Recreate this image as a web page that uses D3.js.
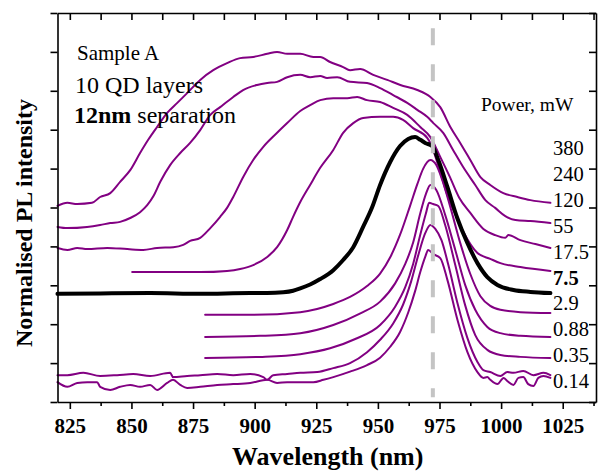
<!DOCTYPE html>
<html>
<head>
<meta charset="utf-8">
<script src="https://cdn.jsdelivr.net/npm/d3@7"></script>
<style>
  body { margin: 0; background: #fff; }
  svg { display: block; }
  text { font-family: "Liberation Serif", "Times New Roman", serif; fill: #000; }
</style>
</head>
<body>
<svg id="chart" width="605" height="474"></svg>
<script>
// Tick values (wavelength in nm)
const majorTicks = [825, 850, 875, 900, 925, 950, 975, 1000, 1025];
const minorTicks = [837.5, 862.5, 887.5, 912.5, 937.5, 962.5, 987.5, 1012.5, 1037.5];
const topTicks = [825, 837.5, 850, 862.5, 875, 887.5, 900, 912.5, 925, 937.5, 950, 962.5, 975, 987.5, 1000, 1012.5, 1025, 1037.5];
const intensityTicks = [0, 1, 2, 3, 4, 5, 6, 7, 8, 9, 10];

// Excitation powers listed beside the spectra (mW)
const powerLabels = ["380", "240", "120", "55", "17.5", "7.5", "2.9", "0.88", "0.35", "0.14"];
const boldPower = "7.5";

// Reference wavelength marked by the dashed line (nm)
const markerWavelength = 972.3;

// Normalised, vertically offset PL spectra: [wavelength nm, intensity]
const spectrum01 = [[820,5.04],[824,5.12],[828,5.09],[834,5.12],[837.3,5.27],[841.4,5.37],[845.4,5.66],[849.5,5.96],[853.5,6.40],[856.8,6.74],[860.4,7.07],[864.5,7.43],[868.6,7.69],[872.6,7.94],[877.9,8.28],[883.2,8.53],[888.8,8.71],[894.1,8.84],[899.4,8.87],[905.1,8.95],[909.1,9.00],[913.2,8.95],[918.5,8.95],[923.8,8.87],[926.6,8.87],[930.6,8.74],[935.9,8.61],[938.7,8.53],[942.8,8.56],[948.1,8.41],[953.8,8.28],[959.1,8.15],[966,8.02],[971.3,7.84],[975.3,7.58],[979.4,7.07],[983.4,6.66],[987.5,6.22],[991.6,5.78],[995.6,5.58],[1000.9,5.37],[1006.6,5.27],[1011.9,5.19],[1020,5.12]];

const spectrum02 = [[820,4.50],[824,4.47],[832,4.50],[837.3,4.55],[841.4,4.60],[845.4,4.63],[849.5,4.73],[853.5,4.88],[856.4,5.06],[859,5.30],[861.7,5.66],[865.7,6.09],[869.8,6.40],[873.8,6.66],[877.9,6.99],[882,7.38],[886,7.58],[891.3,7.84],[895.3,8.02],[901,8.15],[905.1,8.20],[909.1,8.23],[913.2,8.35],[918.5,8.41],[922.5,8.35],[926.6,8.38],[929.4,8.33],[933.5,8.35],[938.7,8.23],[945.6,8.20],[950.9,8.07],[956.2,7.89],[961.9,7.69],[966,7.51],[970,7.33],[972.5,7.17],[976.5,6.92],[980.5,6.48],[984.6,6.04],[989.5,5.58],[993.6,5.19],[997.6,4.99],[1001.7,4.78],[1005.8,4.68],[1011.9,4.65],[1020,4.60]];

const spectrum03 = [[820,3.96],[824,3.91],[828,3.96],[832.1,3.93],[840.2,3.96],[848.3,3.93],[854.8,3.91],[860.4,3.96],[867,3.98],[871,4.04],[873.8,4.14],[877.9,4.22],[882,4.47],[886,4.76],[888.8,4.99],[891.3,5.27],[895.3,5.78],[899.4,6.22],[903.5,6.56],[909.1,6.92],[913.2,7.17],[918.5,7.48],[922.5,7.63],[926.6,7.76],[931.9,7.81],[937.6,7.81],[941.6,7.84],[945.6,7.76],[950.9,7.71],[956.2,7.56],[961.9,7.38],[967.2,7.07],[971.3,6.81],[975.3,6.30],[979.1,5.80],[983,5.25],[987.5,4.86],[992.8,4.45],[997.6,4.29],[1001.7,4.22],[1002.9,4.29],[1007.8,4.16],[1013.9,4.06],[1020,3.96]];

const spectrum04 = [[850.3,3.34],[864.5,3.34],[877.9,3.34],[888.8,3.37],[894.1,3.42],[899.4,3.52],[905.1,3.73],[909.1,3.98],[913.2,4.42],[915.6,4.76],[918.5,5.14],[922.5,5.58],[926.6,6.02],[931.9,6.48],[935.9,6.92],[940,7.17],[944,7.30],[950.9,7.33],[956.2,7.33],[960.2,7.25],[964.3,7.04],[970,6.79],[971.3,6.66],[975.3,5.91],[978.2,5.32],[981.5,4.81],[984.7,4.37],[990.4,3.83],[995.6,3.68],[999.7,3.57],[1007.8,3.47],[1020,3.37]];

const spectrum05 = [[820,2.78],[837.3,2.79],[857.6,2.80],[877.9,2.78],[898.2,2.80],[905.1,2.80],[911.6,2.82],[915.6,2.86],[918.5,2.92],[922.5,3.02],[926.6,3.16],[931.9,3.39],[935.9,3.65],[940,3.98],[944,4.50],[947.7,5.01],[950.9,5.58],[955,6.17],[959,6.58],[962.3,6.76],[965.1,6.81],[967.2,6.74],[969.2,6.66],[972,6.58],[974.5,6.22],[978.2,5.53],[982.2,4.73],[986.3,4.09],[990.4,3.57],[994.4,3.21],[998.5,3.01],[1005,2.88],[1011.9,2.83],[1020,2.80]];

const spectrum06 = [[879.9,2.24],[898.2,2.24],[918.5,2.31],[931.9,2.52],[938.7,2.70],[945.6,2.98],[950.9,3.30],[955,3.72],[959,4.30],[963.1,5.05],[966,5.60],[968.4,6.00],[971.3,6.22],[973.7,6.09],[976.1,5.71],[979.4,5.01],[983.4,4.09],[987.5,3.29],[991.6,2.72],[995.6,2.47],[999.7,2.37],[1007.8,2.31],[1020,2.29]];

const spectrum07 = [[879.9,1.67],[902.2,1.70],[918.5,1.77],[931.9,1.98],[942.9,2.28],[950.9,2.58],[957,3.05],[961.1,3.55],[964.3,4.10],[967.2,4.85],[969.5,5.35],[971.3,5.58],[973.7,5.45],[977.3,4.81],[981.4,3.91],[985.4,3.01],[989.5,2.37],[994.4,1.93],[999.7,1.77],[1007.8,1.70],[1020,1.67]];

const spectrum08 = [[879.9,1.13],[902.2,1.16],[918.5,1.23],[930.6,1.38],[940.8,1.62],[950.9,1.98],[957,2.45],[961.1,2.95],[964.3,3.55],[967.2,4.30],[969.5,4.85],[970.8,5.12],[972.4,5.09],[974.5,5.04],[977.3,4.55],[981.4,3.52],[985.4,2.49],[989.5,1.72],[994.4,1.34],[999.7,1.21],[1007.8,1.16],[1020,1.13]];

const spectrum09 = [[820,0.69],[824,0.69],[830.5,0.75],[837.3,0.67],[844.2,0.69],[850.7,0.72],[857.6,0.67],[865.7,0.75],[866.9,0.64],[872.6,0.67],[877.9,0.69],[884.8,0.72],[891.3,0.69],[898.2,0.72],[903.5,0.64],[905.1,0.57],[907.5,0.69],[913.2,0.72],[918.5,0.75],[925.4,0.77],[931.9,0.87],[938.7,1.00],[945.6,1.28],[950.9,1.60],[956.2,2.02],[960.2,2.50],[963.5,3.10],[966.5,3.80],[969.2,4.34],[971.3,4.55],[973.3,4.45],[975.8,4.16],[978.6,3.52],[982.3,2.54],[986.3,1.65],[990.4,1.03],[992.8,0.82],[995.6,0.77],[999.7,0.67],[1002.5,0.77],[1005,0.75],[1009,0.80],[1013.1,0.69],[1017.2,0.75],[1020,0.69]];

const spectrum10 = [[820,0.51],[824,0.39],[828,0.49],[832.1,0.51],[836.1,0.51],[837.3,0.39],[841.4,0.31],[845.4,0.39],[849.5,0.44],[853.5,0.39],[857.6,0.44],[860.4,0.31],[864.5,0.49],[866.9,0.57],[869.8,0.44],[872.6,0.36],[877.9,0.39],[884.8,0.44],[891.3,0.46],[898.2,0.49],[905.1,0.57],[909.1,0.49],[913.2,0.51],[918.5,0.51],[923.8,0.51],[927.9,0.57],[931.9,0.64],[938.7,0.78],[945.6,0.95],[950.9,1.14],[955,1.42],[959,1.80],[962.3,2.30],[965.1,2.85],[967.2,3.34],[969.2,3.73],[970.4,3.91],[972.5,3.80],[975.3,3.70],[978.2,3.14],[982.3,2.11],[986.3,1.29],[990.4,0.77],[992.8,0.62],[994.4,0.64],[995.6,0.57],[998.5,0.46],[1001,0.62],[1002.5,0.54],[1005,0.44],[1007,0.62],[1009,0.64],[1011,0.46],[1013.1,0.41],[1015.1,0.62],[1017.2,0.67],[1020,0.62]];

const spectra = [spectrum01, spectrum02, spectrum03, spectrum04, spectrum05,
                 spectrum06, spectrum07, spectrum08, spectrum09, spectrum10];
const highlightedIndex = 4;   // the thick black spectrum (7.5 mW)

const svg = d3.select("#chart");
const plot = { left: 57.5, right: 596, top: 13, bottom: 402 };

const x = d3.scaleLinear().domain([820, 1038.5]).range([plot.left, plot.right]);
const y = d3.scaleLinear().domain([0, 10]).range([plot.bottom, plot.top]);

const line = d3.line()
  .x(d => x(d[0]))
  .y(d => y(d[1]))
  .curve(d3.curveMonotoneX);

// Spectra: purple traces, the highlighted one drawn thick and black on top
const traces = svg.append("g").attr("fill", "none").attr("stroke-linejoin", "round").attr("stroke-linecap", "round");
spectra.forEach((s, i) => {
  if (i === highlightedIndex) return;
  traces.append("path").attr("d", line(s)).attr("stroke", "#820082").attr("stroke-width", 2);
});
traces.append("path").attr("d", line(spectra[highlightedIndex]))
  .attr("stroke", "#000").attr("stroke-width", 4);

// Dashed reference line
svg.append("line")
  .attr("x1", x(markerWavelength)).attr("x2", x(markerWavelength))
  .attr("y1", y(9.61)).attr("y2", y(0.12))
  .attr("stroke", "#c4c4c4").attr("stroke-width", 4)
  .attr("stroke-dasharray", "17,19");

// Axes
function styleAxis(g) {
  g.selectAll("path.domain").attr("stroke", "#000").attr("stroke-width", 1.6);
  g.selectAll(".tick line").attr("stroke", "#000").attr("stroke-width", 1.6);
}

const axisB = svg.append("g").attr("transform", `translate(0,${plot.bottom})`)
  .call(d3.axisBottom(x).tickValues(majorTicks).tickSize(7).tickSizeOuter(0).tickPadding(9).tickFormat(d3.format("d")));
styleAxis(axisB);
axisB.selectAll(".tick text")
  .style("font-family", '"Liberation Serif", "Times New Roman", serif')
  .style("font-size", "21px").style("font-weight", "bold");

const axisBMinor = svg.append("g").attr("transform", `translate(0,${plot.bottom})`)
  .call(d3.axisBottom(x).tickValues(minorTicks).tickSize(4).tickFormat(""));
axisBMinor.select("path.domain").remove();
styleAxis(axisBMinor);

const axisT = svg.append("g").attr("transform", `translate(0,${plot.top})`)
  .call(d3.axisTop(x).tickValues(topTicks).tickSize(-7).tickSizeOuter(0).tickFormat(""));
styleAxis(axisT);

const axisL = svg.append("g").attr("transform", `translate(${plot.left},0)`)
  .call(d3.axisLeft(y).tickValues(intensityTicks).tickSize(7).tickSizeOuter(0).tickFormat(""));
styleAxis(axisL);

const axisR = svg.append("g").attr("transform", `translate(${plot.right},0)`)
  .call(d3.axisRight(y).tickValues(intensityTicks).tickSize(-7).tickSizeOuter(0).tickFormat(""));
styleAxis(axisR);

// Axis titles
svg.append("text")
  .attr("x", (plot.left + plot.right) / 2 + 1).attr("y", 465)
  .attr("text-anchor", "middle")
  .style("font-size", "26px").style("font-weight", "bold")
  .text("Wavelength (nm)");

svg.append("text")
  .attr("transform", "translate(32,223) rotate(-90)")
  .attr("text-anchor", "middle")
  .style("font-size", "24px").style("font-weight", "bold")
  .text("Normalised PL intensity");

// Sample description
svg.append("text").attr("x", 77).attr("y", 60).style("font-size", "21px").text("Sample A");
svg.append("text").attr("x", 75).attr("y", 93).style("font-size", "24px").text("10 QD layers");
const sep = svg.append("text").attr("x", 74).attr("y", 123).style("font-size", "24px");
sep.append("tspan").style("font-weight", "bold").text("12nm");
sep.append("tspan").text(" separation");

// Power list
svg.append("text").attr("x", 481).attr("y", 111).style("font-size", "19.5px").text("Power, mW");
svg.append("g").selectAll("text").data(powerLabels).join("text")
  .attr("x", 553)
  .attr("y", (d, i) => 155 + i * 25.9)
  .style("font-size", "20.5px")
  .style("font-weight", d => d === boldPower ? "bold" : "normal")
  .text(d => d);
</script>
</body>
</html>
